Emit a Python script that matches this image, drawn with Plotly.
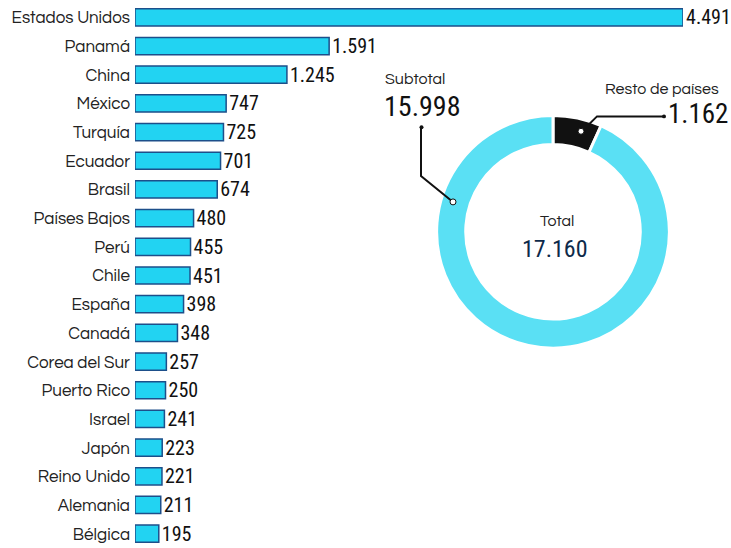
import plotly.graph_objects as go

countries = ["Estados Unidos", "Panamá", "China", "México", "Turquía", "Ecuador", "Brasil",
             "Países Bajos", "Perú", "Chile", "España", "Canadá", "Corea del Sur", "Puerto Rico",
             "Israel", "Japón", "Reino Unido", "Alemania", "Bélgica"]
values = [4491, 1591, 1245, 747, 725, 701, 674, 480, 455, 451, 398, 348, 257, 250, 241, 223, 221, 211, 195]

donut_labels = ["Resto de países", "Subtotal"]
donut_values = [1162, 15998]
total_value = 17160

W, H = 731, 548
def px(x):
    return x / W
def py(y):
    return 1 - y / H

def fmt(v):
    return f"{v:,}".replace(",", ".")

label_font = "Questrial, Lato, sans-serif"
num_font = "Roboto Condensed, DejaVu Sans Condensed, sans-serif"

fig = go.Figure()
fig.add_trace(go.Bar(
    x=values, y=countries, orientation="h",
    marker=dict(color="#22d3f2", line=dict(color="#1d4f8a", width=1.5)),
    width=0.6,
    texttemplate="%{x:,}", textposition="outside", constraintext="none",
    textfont=dict(family=num_font, size=20, color="#111111"),
    cliponaxis=False, hoverinfo="skip", showlegend=False,
))

fig.add_trace(go.Pie(
    labels=donut_labels, values=donut_values, hole=0.75, sort=False,
    direction="clockwise", rotation=0,
    marker=dict(colors=["#111111", "#5ae0f4"], line=dict(color="white", width=3)),
    textinfo="none", hoverinfo="skip", showlegend=False,
    domain=dict(x=[px(436), px(670)], y=[py(347), py(113)]),
))

annotations = [
    dict(x=px(415), y=py(76), text="Subtotal", font=dict(family=label_font, size=16, color="#222")),
    dict(x=px(422), y=py(104), text=fmt(donut_values[1]),
         font=dict(family=num_font, size=28, color="#111")),
    dict(x=px(662), y=py(86), text="Resto de países", font=dict(family=label_font, size=16, color="#222")),
    dict(x=px(698), y=py(112), text=fmt(donut_values[0]),
         font=dict(family=num_font, size=27, color="#111")),
    dict(x=px(557), y=py(219), text="Total", font=dict(family=label_font, size=16, color="#222")),
    dict(x=px(555), y=py(247), text=fmt(total_value),
         font=dict(family=num_font, size=24, color="#0d2a4a")),
]
for a in annotations:
    a.update(xref="paper", yref="paper", showarrow=False, xanchor="center", yanchor="middle")

line_style = dict(color="#111", width=2)
shapes = [
    dict(type="path", xref="paper", yref="paper",
         path=f"M {px(421)},{py(125)} L {px(421)},{py(174)} L {px(453)},{py(200)}", line=line_style),
    dict(type="path", xref="paper", yref="paper",
         path=f"M {px(664)},{py(114)} L {px(597)},{py(114)} L {px(582)},{py(129)}", line=line_style),
    dict(type="circle", xref="paper", yref="paper",
         x0=px(450), x1=px(456), y0=py(203), y1=py(197), fillcolor="white", line=dict(color="#111", width=1)),
    dict(type="circle", xref="paper", yref="paper",
         x0=px(578), x1=px(584), y0=py(132), y1=py(126), fillcolor="white", line=dict(color="#111", width=1)),
    dict(type="circle", xref="paper", yref="paper",
         x0=px(419.5), x1=px(423.5), y0=py(127), y1=py(123), fillcolor="#111", line=dict(width=0)),
    dict(type="circle", xref="paper", yref="paper",
         x0=px(662), x1=px(666), y0=py(116), y1=py(112), fillcolor="#111", line=dict(width=0)),
]

fig.update_layout(
    width=W, height=H,
    margin=dict(l=0, r=0, t=3, b=0, autoexpand=False),
    paper_bgcolor="white", plot_bgcolor="white",
    separators=",.",
    xaxis=dict(domain=[px(135), px(683)], range=[0, max(values)], visible=False,
               fixedrange=True, automargin=False),
    yaxis=dict(categoryorder="array", categoryarray=countries, autorange="reversed",
               showgrid=False, zeroline=False, showline=False, ticks="",
               ticklabelstandoff=4, automargin=False, fixedrange=True,
               tickfont=dict(family=label_font, size=17, color="#222")),
    annotations=annotations, shapes=shapes,
    bargap=0.4,
)

fig.write_html("out.html", config={"displayModeBar": False},
               post_script="document.body.style.margin='0';document.body.style.overflow='hidden';")
